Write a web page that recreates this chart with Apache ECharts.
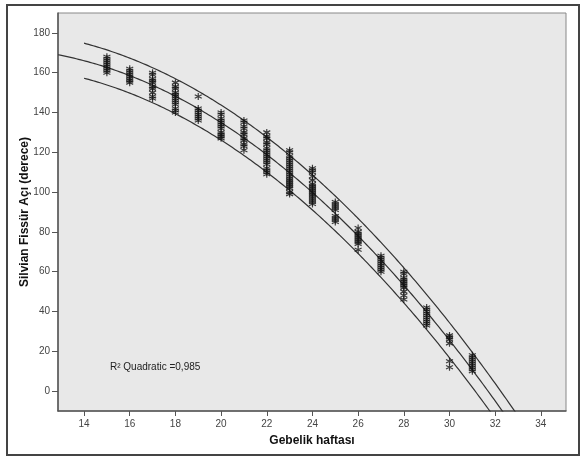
<!DOCTYPE html>
<html>
<head>
<meta charset="utf-8">
<script src="https://cdn.jsdelivr.net/npm/echarts@6/dist/echarts.min.js"></script>
<style>
html,body{margin:0;padding:0;background:#fff;}
#chart{width:584px;height:458px;}
</style>
</head>
<body>
<div id="chart"></div>
<script>
// gebelik haftasi ve olculen acilar
var weeks = [15, 16, 17, 18, 19, 20, 21, 22, 23, 24, 25, 26, 27, 28, 29, 30, 31];
var angles = [
	[168, 167, 166, 165, 164, 163, 162, 161, 160],
	[162, 161, 160, 159, 158, 157, 156, 155],
	[160, 159, 157, 156, 155, 153, 152, 150, 148, 147],
	[155, 153, 152, 150, 149, 148, 147, 146, 145, 144, 142, 141, 140],
	[148, 142, 141, 140, 139, 138, 137, 136],
	[140, 139, 137, 136, 135, 134, 133, 132, 130, 129, 128, 127],
	[136, 135, 133, 132, 130, 129, 127, 126, 124, 123, 121],
	[130, 128, 127, 125, 124, 122, 121, 120, 119, 118, 117, 116, 115, 114, 112, 111, 110, 109],
	[121, 120, 118, 117, 116, 115, 114, 113, 112, 111, 110, 109, 108, 107, 106, 105, 104, 103, 102, 100, 99],
	[112, 111, 110, 108, 106, 104, 103, 102, 101, 100, 99, 98, 97, 96, 95, 94],
	[95, 94, 93, 92, 91, 88, 87, 86, 85],
	[82, 80, 79, 78, 77, 76, 75, 74, 71],
	[68, 67, 66, 65, 64, 63, 62, 61, 60],
	[60, 59, 57, 56, 55, 54, 53, 52, 50, 48, 46],
	[42, 41, 40, 39, 38, 37, 36, 35, 34, 33],
	[28, 27, 26, 24, 15, 12],
	[18, 17, 16, 15, 14, 13, 12, 11, 10]
];
var xTicks = [14, 16, 18, 20, 22, 24, 26, 28, 30, 32, 34];
var yTicks = [0, 20, 40, 60, 80, 100, 120, 140, 160, 180];
var r2Label = 'R² Quadratic =0,985';
var bandHalf = 8.8;   // tahmin araligi yari genisligi

var points = [];
for (var i = 0; i < weeks.length; i++) {
	for (var j = 0; j < angles[i].length; j++) {
		points.push([weeks[i], angles[i][j]]);
	}
}

// ikinci derece regresyon (en kucuk kareler)
function quadFit(pts) {
	var c0 = 22;
	var S = [0, 0, 0, 0, 0], T = [0, 0, 0];
	pts.forEach(function (p) {
		var u = p[0] - c0, k;
		for (k = 0; k < 5; k++) S[k] += Math.pow(u, k);
		for (k = 0; k < 3; k++) T[k] += p[1] * Math.pow(u, k);
	});
	var M = [
		[S[0], S[1], S[2], T[0]],
		[S[1], S[2], S[3], T[1]],
		[S[2], S[3], S[4], T[2]]
	];
	for (var r = 0; r < 3; r++) {
		for (var q = r + 1; q < 3; q++) {
			var f = M[q][r] / M[r][r];
			for (var m = r; m < 4; m++) M[q][m] -= f * M[r][m];
		}
	}
	var co = [0, 0, 0];
	for (r = 2; r >= 0; r--) {
		var s = M[r][3];
		for (q = r + 1; q < 3; q++) s -= M[r][q] * co[q];
		co[r] = s / M[r][r];
	}
	return function (x) {
		var u = x - c0;
		return co[0] + co[1] * u + co[2] * u * u;
	};
}
var fit = quadFit(points);

function curve(from, to, shift) {
	var out = [];
	for (var x = from; x <= to + 1e-9; x += 0.05) {
		out.push([x, fit(x) + shift]);
	}
	return out;
}

var myChart = echarts.init(document.getElementById('chart'));
var lineStyle = {color: '#333', width: 1.2};
var option = {
	animation: false,
	backgroundColor: '#fff',
	grid: {
		left: 58, top: 13, right: 18, bottom: 47,
		show: true,
		backgroundColor: '#e8e8e8',
		borderColor: '#888',
		borderWidth: 1
	},
	xAxis: {
		type: 'value',
		min: 12.86, max: 35.1,
		name: 'Gebelik haftası',
		nameLocation: 'middle',
		nameGap: 24,
		nameMoveOverlap: false,
		nameTextStyle: {fontFamily: 'Liberation Sans', fontWeight: 'bold', fontSize: 12, color: '#111'},
		axisLine: {show: true, onZero: false, lineStyle: {color: '#555', width: 1.5}},
		axisTick: {show: true, length: 5, customValues: xTicks, lineStyle: {color: '#555'}},
		axisLabel: {customValues: xTicks, margin: 8, fontFamily: 'Liberation Sans', fontSize: 10, color: '#444'},
		splitLine: {show: false}
	},
	yAxis: {
		type: 'value',
		min: -10, max: 190,
		name: 'Silvian Fissür Açı (derece)',
		nameLocation: 'middle',
		nameGap: 27,
		nameMoveOverlap: false,
		nameTextStyle: {fontFamily: 'Liberation Sans', fontWeight: 'bold', fontSize: 12, color: '#111'},
		axisLine: {show: true, onZero: false, lineStyle: {color: '#555', width: 1.5}},
		axisTick: {show: true, length: 6, customValues: yTicks, lineStyle: {color: '#555'}},
		axisLabel: {customValues: yTicks, margin: 8, fontFamily: 'Liberation Sans', fontSize: 10, color: '#444'},
		splitLine: {show: false}
	},
	graphic: [
		{
			type: 'rect', silent: true, z: 100,
			shape: {x: 7, y: 5, width: 572, height: 450},
			style: {fill: 'none', stroke: '#444', lineWidth: 2}
		},
		{
			type: 'text', z: 100, left: 110, top: 362,
			style: {text: r2Label, fontFamily: 'Liberation Sans', fontSize: 10, fill: '#222'}
		}
	],
	series: [
		{
			type: 'line', data: curve(12.86, 33.5, 0),
			showSymbol: false, lineStyle: lineStyle, clip: true, z: 2
		},
		{
			type: 'line', data: curve(14, 33.5, bandHalf),
			showSymbol: false, lineStyle: lineStyle, clip: true, z: 2
		},
		{
			type: 'line', data: curve(14, 33.5, -bandHalf),
			showSymbol: false, lineStyle: lineStyle, clip: true, z: 2
		},
		{
			type: 'scatter',
			data: points,
			symbol: 'path://M0,-5L0,5M-4.33,-2.5L4.33,2.5M-4.33,2.5L4.33,-2.5',
			symbolSize: 7,
			itemStyle: {color: 'none', borderColor: '#111', borderWidth: 1.2},
			z: 3
		}
	]
};
myChart.setOption(option);
</script>
</body>
</html>
